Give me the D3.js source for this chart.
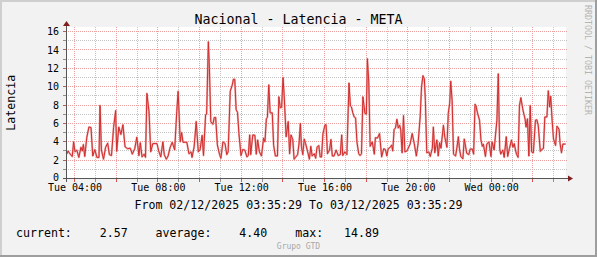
<!DOCTYPE html>
<html>
<head>
<meta charset="utf-8">
<script src="https://cdn.jsdelivr.net/npm/d3@7"></script>
<style>
  html, body { margin: 0; padding: 0; background: #f2f2f2; }
  svg { display: block; font-family: "DejaVu Sans Mono", monospace; }
</style>
</head>
<body>
<svg id="chart" width="597" height="257"></svg>
<script>
let WIDTH = 597, HEIGHT = 257;
let P = { left: 66, right: 566, top: 27, bottom: 178.5 };

// data: minutes after 02/12/2025 03:35:29, latency value
const startTime = new Date(2025, 11, 2, 3, 35, 29);
const endTime = new Date(2025, 11, 3, 3, 35, 29);

const offsetMin = [
  2, 6, 12, 18, 22, 26, 31, 37, 43, 47, 50, 54, 60, 66, 72, 77, 83, 89, 95, 98,
  102, 108, 114, 120, 125, 131, 137, 143, 146, 152, 158, 164, 170, 177, 185, 191, 198, 204, 210, 214,
  219, 225, 229, 233, 239, 244, 250, 262, 267, 273, 279, 283, 289, 294, 300, 306, 313, 319, 323, 329,
  333, 337, 348, 354, 360, 363, 369, 375, 381, 386, 392, 396, 402, 405, 410, 413, 417, 423, 427, 431,
  436, 442, 446, 452, 458, 463, 467, 473, 479, 482, 486, 490, 494, 498, 504, 509, 515, 521, 525, 529,
  532, 538, 544, 548, 552, 557, 563, 569, 573, 577, 580, 584, 588, 594, 598, 603, 609, 613, 617, 621,
  625, 628, 634, 640, 644, 648, 653, 657, 661, 667, 671, 675, 678, 682, 686, 690, 696, 701, 705, 709,
  715, 719, 723, 728, 732, 736, 740, 746, 749, 753, 759, 763, 767, 772, 778, 784, 790, 794, 797, 803,
  809, 815, 819, 822, 826, 830, 834, 838, 843, 847, 851, 855, 861, 865, 868, 872, 876, 882, 888, 891,
  897, 903, 909, 915, 920, 924, 928, 934, 938, 941, 945, 949, 953, 957, 961, 964, 968, 972, 976, 982,
  991, 997, 1003, 1009, 1014, 1020, 1024, 1028, 1032, 1035, 1039, 1045, 1049, 1055, 1058, 1062, 1068, 1072, 1076, 1080,
  1083, 1087, 1091, 1097, 1101, 1105, 1108, 1112, 1116, 1122, 1126, 1130, 1133, 1137, 1143, 1147, 1151, 1154, 1160, 1164,
  1170, 1174, 1178, 1181, 1185, 1191, 1195, 1199, 1202, 1208, 1212, 1218, 1224, 1227, 1233, 1237, 1241, 1245, 1249, 1252,
  1258, 1262, 1268, 1272, 1277, 1283, 1287, 1291, 1295, 1298, 1302, 1306, 1310, 1316, 1322, 1325, 1329, 1333, 1337, 1341,
  1346, 1352, 1356, 1360, 1366, 1371, 1375, 1379, 1385, 1389, 1393, 1396, 1400, 1404, 1410, 1414, 1420, 1423, 1427, 1431,
  1439
];
const latency = [
  2.65, 3.0, 2.65, 2.4, 4.0, 2.9, 3.1, 2.3, 3.4, 3.0, 3.7, 2.4, 4.5, 5.6, 5.55, 2.45, 3.15, 2.3, 2.3, 7.96,
  3.1, 2.1, 3.4, 3.85, 2.6, 2.5, 5.55, 7.4, 2.95, 5.6, 4.8, 5.85, 3.45, 3.25, 3.3, 2.65, 3.25, 4.5, 2.5, 3.9,
  2.35, 2.65, 2.3, 9.27, 7.3, 2.9, 3.8, 3.8, 3.0, 2.35, 4.0, 2.6, 2.1, 2.45, 3.4, 3.95, 3.1, 7.3, 9.5, 4.0,
  5.0, 3.95, 3.95, 2.7, 2.9, 2.3, 3.45, 6.2, 2.9, 3.1, 4.7, 2.5, 6.95, 7.0, 14.89, 12.0, 6.2, 5.9, 6.65, 6.65,
  3.65, 2.65, 2.2, 4.0, 3.8, 2.6, 2.9, 9.5, 10.2, 10.8, 10.8, 7.5, 7.2, 4.9, 2.5, 3.15, 3.1, 2.35, 2.5, 4.75,
  2.6, 4.75, 4.7, 2.65, 4.2, 2.9, 2.45, 4.4, 4.0, 6.5, 6.65, 10.2, 7.15, 7.15, 3.6, 2.45, 2.45, 8.9, 7.7, 7.75,
  11.0, 9.27, 4.55, 6.2, 2.7, 4.75, 4.25, 2.1, 2.3, 2.6, 3.75, 6.0, 3.5, 2.6, 4.3, 3.8, 2.9, 2.1, 3.5, 2.45,
  2.7, 2.2, 3.4, 3.6, 2.35, 2.35, 4.9, 5.85, 5.85, 2.7, 3.1, 4.25, 2.45, 2.45, 3.1, 2.5, 2.6, 4.75, 2.5, 2.9,
  2.6, 10.4, 7.9, 7.8, 7.15, 6.7, 6.6, 3.95, 2.7, 2.5, 2.7, 8.9, 7.1, 7.0, 13.05, 10.5, 3.5, 4.0, 2.65, 4.45,
  4.4, 4.9, 2.35, 3.25, 3.15, 2.45, 3.25, 3.4, 3.65, 3.0, 5.35, 5.5, 6.45, 5.5, 5.8, 5.3, 2.8, 6.85, 2.9, 3.0,
  3.75, 4.9, 3.8, 2.45, 3.8, 6.7, 10.0, 11.2, 10.85, 8.5, 2.8, 2.9, 2.4, 3.3, 5.6, 2.8, 4.2, 2.45, 3.9, 3.3,
  4.4, 5.8, 4.5, 3.4, 7.1, 8.2, 10.6, 8.5, 2.65, 2.45, 3.4, 4.55, 3.3, 2.4, 2.15, 4.3, 3.45, 2.75, 2.6, 3.2,
  3.2, 2.65, 8.1, 7.9, 7.15, 6.35, 4.2, 3.5, 3.75, 2.4, 3.75, 4.0, 2.4, 4.0, 3.1, 4.75, 6.35, 11.4, 3.25, 2.65,
  3.1, 2.3, 4.55, 2.4, 3.25, 4.2, 3.4, 3.8, 3.0, 2.6, 2.3, 7.95, 8.8, 7.45, 6.5, 5.6, 6.5, 2.45, 7.95, 2.9,
  2.8, 6.35, 6.4, 5.8, 2.95, 3.2, 3.25, 6.7, 6.7, 9.55, 7.8, 8.95, 6.35, 4.3, 3.6, 5.7, 5.35, 3.8, 2.8, 3.75,
  3.75
];

const yTicks = [0, 2, 4, 6, 8, 10, 12, 14, 16];
const xLabelHours = [4, 8, 12, 16, 20, 24];

const titleText = "Nacional - Latencia - META";
const yLabelText = "Latencia";
const rangeText = "From 02/12/2025 03:35:29 To 03/12/2025 03:35:29";
const legendText = "current:    2.57    average:    4.40    max:   14.89";
const footerText = "Grupo GTD";
const watermarkText = "RRDTOOL / TOBI OETIKER";

let svg = d3.select("#chart");

let x = d3.scaleTime().domain([startTime, endTime]).range([P.left, P.right]);
let y = d3.scaleLinear().domain([0, 16.5]).range([P.bottom, P.top]);

let series = offsetMin.map(function (m, i) {
    return { t: new Date(startTime.getTime() + m * 60000), v: latency[i] };
});

function crisp(v) { return Math.round(v - 0.5) + 0.5; }

// background + shaded frame
svg.append("rect").attr("width", WIDTH).attr("height", HEIGHT).attr("fill", "#f2f2f2");
svg.append("rect").attr("x", 0).attr("y", 0).attr("width", WIDTH).attr("height", 2).attr("fill", "#cfcfcf");
svg.append("rect").attr("x", 0).attr("y", 0).attr("width", 2).attr("height", HEIGHT).attr("fill", "#cfcfcf");
svg.append("rect").attr("x", 0).attr("y", HEIGHT - 2).attr("width", WIDTH).attr("height", 2).attr("fill", "#9e9e9e");
svg.append("rect").attr("x", WIDTH - 2).attr("y", 0).attr("width", 2).attr("height", HEIGHT).attr("fill", "#9e9e9e");

// canvas
svg.append("rect")
    .attr("x", P.left).attr("y", P.top)
    .attr("width", P.right - P.left).attr("height", P.bottom - P.top)
    .attr("fill", "#ffffff");

let grid = svg.append("g").attr("shape-rendering", "crispEdges");
const minorCol = "#c4c4c4", majorCol = "#eda0a0";

// horizontal grid: every 1 unit, major every 2
let yMinor = d3.range(1, 17, 1);
grid.selectAll("line.hgrid")
    .data(yMinor)
    .join("line")
    .attr("class", "hgrid")
    .attr("x1", P.left).attr("x2", P.right + 2)
    .attr("y1", d => crisp(y(d))).attr("y2", d => crisp(y(d)))
    .attr("stroke", d => d % 2 === 0 ? majorCol : minorCol)
    .attr("stroke-dasharray", "1,1");
grid.selectAll("line.htick")
    .data(yMinor)
    .join("line")
    .attr("class", "htick")
    .attr("x1", P.left - 3).attr("x2", P.left)
    .attr("y1", d => crisp(y(d))).attr("y2", d => crisp(y(d)))
    .attr("stroke", d => d % 2 === 0 ? "#b06060" : "#8f8f8f");

// vertical grid: every hour, major every 2 hours
let hours = d3.timeHour.range(startTime, endTime);
grid.selectAll("line.vgrid")
    .data(hours)
    .join("line")
    .attr("class", "vgrid")
    .attr("x1", d => crisp(x(d))).attr("x2", d => crisp(x(d)))
    .attr("y1", P.top).attr("y2", P.bottom)
    .attr("stroke", d => d.getHours() % 2 === 0 ? majorCol : minorCol)
    .attr("stroke-dasharray", "1,1");
grid.selectAll("line.vtick")
    .data(hours)
    .join("line")
    .attr("class", "vtick")
    .attr("x1", d => crisp(x(d))).attr("x2", d => crisp(x(d)))
    .attr("y1", P.bottom).attr("y2", P.bottom + 3)
    .attr("stroke", d => d.getHours() % 2 === 0 ? "#de5050" : "#8f8f8f");

// the series
let lineGen = d3.line().x(d => x(d.t)).y(d => y(d.v));
svg.append("path")
    .datum(series)
    .attr("fill", "none")
    .attr("stroke", "#ebaaaa")
    .attr("stroke-width", 2)
    .attr("stroke-linejoin", "round")
    .attr("d", lineGen);
svg.append("path")
    .datum(series)
    .attr("fill", "none")
    .attr("stroke", "#d22c2c")
    .attr("stroke-width", 1)
    .attr("d", lineGen);

// axis lines + arrows
let axisG = svg.append("g").attr("shape-rendering", "crispEdges");
axisG.append("line")
    .attr("x1", P.left - 3).attr("x2", P.right + 3)
    .attr("y1", crisp(P.bottom)).attr("y2", crisp(P.bottom))
    .attr("stroke", "#555").attr("stroke-width", 1);
axisG.append("line")
    .attr("x1", crisp(P.left)).attr("x2", crisp(P.left))
    .attr("y1", P.bottom + 3).attr("y2", P.top - 4)
    .attr("stroke", "#555").attr("stroke-width", 1);
svg.append("path")
    .attr("d", `M${P.right + 2},${P.bottom - 3} L${P.right + 7},${P.bottom} L${P.right + 2},${P.bottom + 3} Z`)
    .attr("fill", "#801f1f");
svg.append("path")
    .attr("d", `M${P.left - 3},${P.top - 1} L${P.left + 0.5},${P.top - 6} L${P.left + 4},${P.top - 1} Z`)
    .attr("fill", "#801f1f");

// tick labels via d3 axes
let xAxis = d3.axisBottom(x)
    .tickValues(xLabelHours.map(h => new Date(2025, 11, 2, h, 0, 0)))
    .tickFormat(d3.timeFormat("%a %H:%M"))
    .tickSize(0)
    .tickPadding(5.5);
let xg = svg.append("g")
    .attr("transform", `translate(0,${P.bottom})`)
    .call(xAxis);
xg.select(".domain").remove();
xg.selectAll("text")
    .attr("font-family", "DejaVu Sans Mono")
    .attr("font-size", "10px")
    .attr("fill", "#000");

let yAxis = d3.axisLeft(y)
    .tickValues(yTicks)
    .tickFormat(d3.format("d"))
    .tickSize(0)
    .tickPadding(7);
let yg = svg.append("g")
    .attr("transform", `translate(${P.left},0)`)
    .call(yAxis);
yg.select(".domain").remove();
yg.selectAll("text")
    .attr("font-family", "DejaVu Sans Mono")
    .attr("font-size", "10px")
    .attr("fill", "#000");
// keep the "0" label from touching the first time label
yg.selectAll(".tick text").filter(d => d === 0).attr("dy", "0.2em");

// texts
svg.append("text")
    .attr("x", WIDTH / 2).attr("y", 24)
    .attr("text-anchor", "middle")
    .attr("font-size", "13.3px")
    .attr("fill", "#000")
    .text(titleText);

svg.append("text")
    .attr("transform", `translate(15,${(P.top + P.bottom) / 2}) rotate(-90)`)
    .attr("text-anchor", "middle")
    .attr("font-size", "11.6px")
    .attr("fill", "#000")
    .text(yLabelText);

svg.append("text")
    .attr("x", WIDTH / 2).attr("y", 208.5)
    .attr("text-anchor", "middle")
    .attr("font-size", "11.6px")
    .attr("fill", "#000")
    .text(rangeText);

svg.append("text")
    .attr("x", 16).attr("y", 237)
    .attr("font-size", "11.6px")
    .attr("fill", "#000")
    .style("white-space", "pre")
    .text(legendText);

svg.append("text")
    .attr("x", WIDTH / 2).attr("y", 249)
    .attr("text-anchor", "middle")
    .attr("font-size", "8px")
    .attr("fill", "#a8a8a8")
    .text(footerText);

svg.append("text")
    .attr("transform", "translate(585,5) rotate(90)")
    .attr("font-size", "8.3px")
    .attr("fill", "#b4b4b4")
    .text(watermarkText);
</script>
</body>
</html>
